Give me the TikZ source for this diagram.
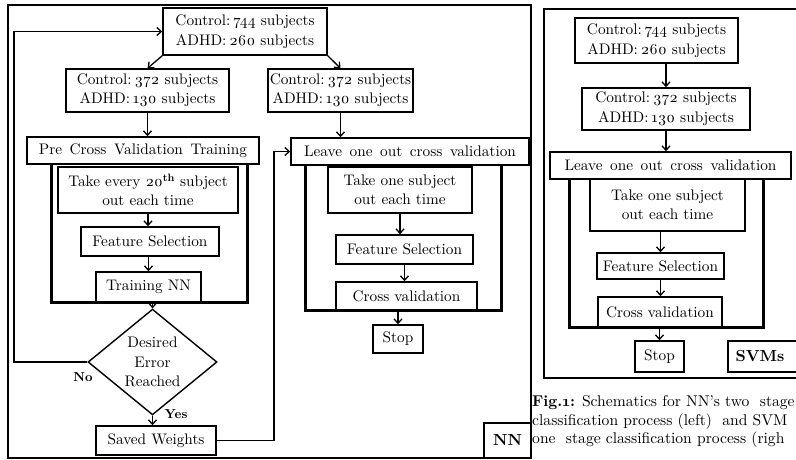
\documentclass[tikz,border=0pt]{standalone}
\usepackage{fontspec}
\setmainfont{lmroman10-regular.otf}[BoldFont=lmroman10-bold.otf,ItalicFont=lmroman10-italic.otf,BoldItalicFont=lmroman10-bolditalic.otf]
\usetikzlibrary{arrows.meta,shapes.geometric}
\newcommand{\osn}[1]{\oldstylenums{#1}}
\newcommand{\wsp}{\hspace{2.5pt}}
\newcommand{\csp}{\hspace{3pt}}
\begin{document}
\begin{tikzpicture}[x=1pt,y=-1pt,
  box/.style={draw,fill=white,line width=1.4pt,inner sep=0pt,align=center,
    font=\fontsize{15.3}{19.5}\selectfont},
  thickbox/.style={draw,line width=3pt},
  frameline/.style={draw,line width=2.6pt},
  arr/.style={-{Straight Barb[length=4.5pt,width=8pt]},line width=1.3pt},
  lbl/.style={inner sep=0pt,font=\fontsize{13}{15}\selectfont\bfseries},
  captxt/.style={anchor=west,inner sep=0pt,font=\fontsize{15.6}{18.5}\selectfont}
]
\useasboundingbox (0,0) rectangle (796,460);

% ---------- NN frame ----------
\draw[frameline] (8,5) rectangle (531,458);
\draw[thickbox] (51,164) -- (51,302) -- (247,302) -- (247,164);
\draw[thickbox] (305,165) -- (305,310) -- (501,310) -- (501,165);

\node[box,minimum width=164pt,minimum height=47pt] (top) at (245,31.5)
  {Control:\csp\osn{744} subjects\\ADHD:\csp\osn{260} subjects};
\node[box,minimum width=163pt,minimum height=43pt] (l372) at (147.5,90.5)
  {Control:\csp\osn{372} subjects\\ADHD:\csp\osn{130} subjects};
\node[box,minimum width=145pt,minimum height=43pt] (r372) at (340.5,90.5)
  {Control:\csp\osn{372} subjects\\ADHD:\csp\osn{130} subjects};
\node[box,minimum width=232pt,minimum height=27pt] (pre) at (143,150.5)
  {Pre\wsp{} Cross\wsp{} Validation\wsp{} Training};
\node[box,minimum width=238pt,minimum height=27pt] (leave) at (410,151.5)
  {Leave\wsp{} one\wsp{} out\wsp{} cross\wsp{} validation};
\node[box,minimum width=180pt,minimum height=46pt] (takeL) at (148,190)
  {Take every \osn{20}\textsuperscript{\textbf{th}} subject\\out each time};
\node[box,minimum width=138pt,minimum height=29pt] (featL) at (150,241.5)
  {Feature Selection};
\node[box,minimum width=105pt,minimum height=30pt] (trainL) at (148.5,287)
  {Training NN};
\node[box,diamond,minimum width=129pt,minimum height=90pt] (dia) at (152.5,362)
  {Desired\\Error\\Reached};
\node[box,minimum width=120pt,minimum height=29pt] (saved) at (156,440.5)
  {Saved Weights};
\node[box,minimum width=47pt,minimum height=35pt,font=\fontsize{16}{19}\selectfont\bfseries] (nnlbl) at (507.5,440.5)
  {NN};
\node[box,minimum width=144pt,minimum height=46pt] (takeR) at (400,190)
  {Take one subject\\out each time};
\node[box,minimum width=137pt,minimum height=29pt] (featR) at (404.5,249.5)
  {Feature Selection};
\node[box,minimum width=141pt,minimum height=28pt] (cvR) at (406.5,296)
  {Cross validation};
\node[box,minimum width=50pt,minimum height=28pt] (stopR) at (398,339)
  {Stop};

\node[lbl] (no) at (83,377) {No};
\node[lbl] (yes) at (176,414) {Yes};

\coordinate (fbL) at (14,0);
\coordinate (fbR) at (274,0);

\draw[arr] (top.south west) -- (l372.north);
\draw[arr] (top.south east) -- (r372.north);
\draw[arr] (l372.south) -- (l372.south |- pre.north);
\draw[arr] (r372.south) -- (r372.south |- leave.north);
\draw[arr] (takeL.south) -- (takeL.south |- featL.north);
\draw[arr] (trainL.north |- featL.south) -- (trainL.north);
\draw[arr] (dia.north |- trainL.south) -- (dia.north);
\draw[arr] (dia.south) -- (dia.south |- saved.north);
\draw[arr] (dia.west) -- (dia.west -| fbL) |- (top.west);
\draw[arr] (saved.east) -- (saved.east -| fbR) |- (leave.west);
\draw[arr] (takeR.south) -- (takeR.south |- featR.north);
\draw[arr] (featR.south) -- (featR.south |- cvR.north);
\draw[arr] (stopR.north |- cvR.south) -- (stopR.north);

% ---------- SVM frame ----------
\draw[frameline] (796,9) -- (544,9) -- (544,378) -- (796,378);
\draw[thickbox] (569,179) -- (569,327) -- (763,327) -- (763,179);

\node[box,minimum width=163pt,minimum height=45pt] (topS) at (656.5,40.5)
  {Control:\csp\osn{744} subjects\\ADHD:\csp\osn{260} subjects};
\node[box,minimum width=168pt,minimum height=42pt] (s372) at (666,109)
  {Control:\csp\osn{372} subjects\\ADHD:\csp\osn{130} subjects};
\node[box,minimum width=241pt,minimum height=27pt] (leaveS) at (670.5,165.5)
  {Leave\wsp{} one\wsp{} out\wsp{} cross\wsp{} validation};
\node[box,minimum width=155pt,minimum height=52pt] (takeS) at (667.5,205)
  {Take one subject\\out each time};
\node[box,minimum width=127pt,minimum height=26pt] (featS) at (660.5,266)
  {Feature Selection};
\node[box,minimum width=124pt,minimum height=30pt] (cvS) at (660,312)
  {Cross validation};
\node[box,minimum width=49pt,minimum height=31pt] (stopS) at (659.5,356.5)
  {Stop};
\draw[line width=1.4pt] (796,341) -- (728,341) -- (728,372) -- (796,372);
\node[inner sep=0pt,font=\fontsize{16}{19}\selectfont\bfseries] (svms) at (760,356.5) {SVMs};

\draw[arr] (topS.south -| s372.north) -- (s372.north);
\draw[arr] (s372.south) -- (s372.south |- leaveS.north);
\draw[arr] (featS.north |- takeS.south) -- (featS.north);
\draw[arr] (featS.south) -- (featS.south |- cvS.north);
\draw[arr] (stopS.north |- cvS.south) -- (stopS.north);

% ---------- caption ----------
\node[captxt] (cap1) at (532,403) {\textbf{Fig.\osn{1}:} Schematics for NN's two\ \ stage};
\node[captxt] (cap2) at (532,421.5) {classification process (left)\ \ and SVM};
\node[captxt] (cap3) at (532,440) {one\ \ stage classification process (righ};
\end{tikzpicture}
\end{document}
